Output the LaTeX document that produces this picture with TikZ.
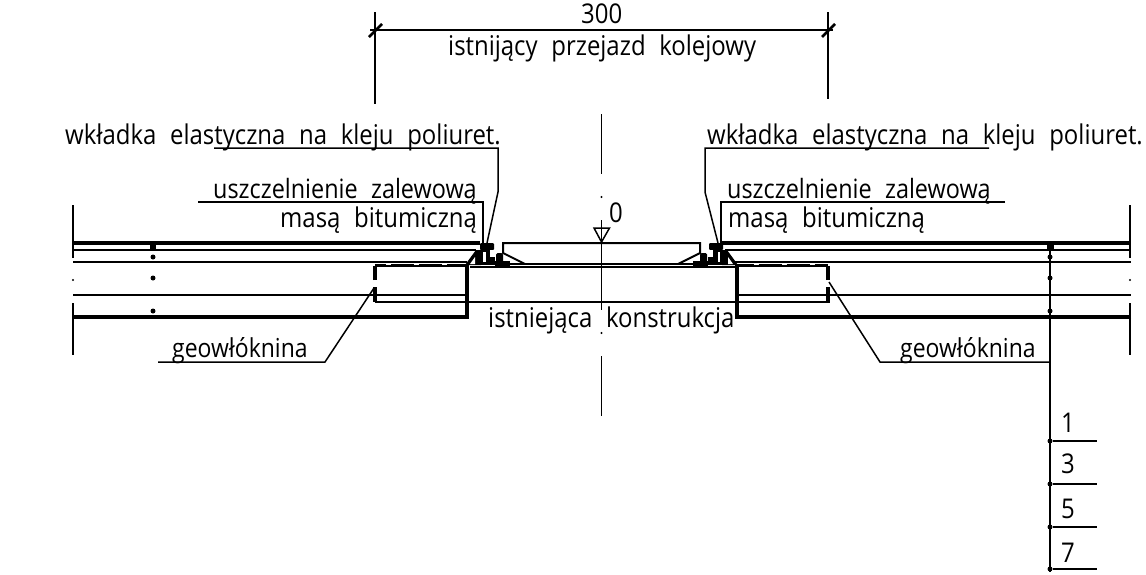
\documentclass[tikz,border=0pt]{standalone}
\usepackage{fontspec}
\setmainfont{Open Sans}[WordSpace=2.2,FakeStretch=0.88]
\tikzset{
 x=1pt,y=-1pt,
 thin line/.style={line width=1.5pt},
 mid line/.style={line width=2pt},
 heavy line/.style={line width=3.2pt},
 lab/.style={font=\fontsize{27.2}{28}\selectfont,inner sep=0pt,anchor=base west},
 labu/.style={font=\fontsize{26.6}{28}\selectfont,inner sep=0pt,anchor=base west},
 labs/.style={font=\fontsize{26.1}{28}\selectfont,inner sep=0pt,anchor=base west},
 spot/.style={circle,fill=black,inner sep=0pt,minimum size=5pt},
 jointpic/.pic={
  \fill (465,265) -- (476,250) -- (481,250) -- (481,265) -- cycle;
  \fill[white] (470,264) -- (475,257) -- (475,264) -- cycle;
  \fill[rounded corners=1pt] (480,243) rectangle (494,250);
  \fill (480,250) rectangle (495,265);
  \fill[white] (483,252) rectangle (485.5,262);
  \fill[white] (490,250) rectangle (495,257);
  \fill[rounded corners=1.5pt] (496,253) rectangle (503,266);
  \fill (495,261) rectangle (510,267);
 },
}
\begin{document}
\begin{tikzpicture}
\useasboundingbox (0,0) rectangle (1146,574);
% dimension
\draw[thin line] (375,12) -- (375,104);
\draw[thin line] (828,12) -- (828,99);
\draw[thin line] (370,30) -- (833,30);
\draw[line width=2.6pt] (369,37) -- (382,24);
\draw[line width=2.6pt] (822,37) -- (835,24);
\node[lab] (t300) at (581,23) {300};
\node[lab] (tprz) at (448,55) {istnijący przejazd kolejowy};
% centre line
\draw[thin line] (601.5,114) -- (601.5,174);
\fill (601.5,197) circle (1.2pt);
\draw[thin line] (601.5,220) -- (601.5,310);
\fill (601.5,333) circle (1.2pt);
\draw[thin line] (601.5,356) -- (601.5,416);
\draw[thin line] (594,228) -- (609.5,228) -- (601.5,242) -- cycle;
\node[lab] (t0) at (609,222) {0};
% left courses
\draw[heavy line] (73,243) -- (480,243);
\draw[mid line] (73,249.5) -- (476,249.5);
\draw[mid line] (73,262) -- (467,262);
\draw[mid line] (73,295) -- (466,295);
\draw[heavy line] (73,317) -- (467,317) -- (467,264);
% right courses
\draw[heavy line] (720,243) -- (1131,243);
\draw[mid line] (725,249.5) -- (1131,249.5);
\draw[mid line] (735,262) -- (1131,262);
\draw[mid line] (737,295) -- (1131,295);
\draw[heavy line] (1131,317) -- (737,317) -- (737,264);
% ends
\draw[thin line] (73,205) -- (73,258);
\draw[thin line] (73,303) -- (73,355);
\fill (73,280) circle (1.2pt);
\draw[mid line] (1130,205) -- (1130,258);
\draw[mid line] (1130,303) -- (1130,355);
\fill (1130,280) circle (1.2pt);
% geotextile
\draw[heavy line] (375,280) -- (375,265.5);
\draw[mid line] (375,266) -- (466,266);
\draw[mid line,dash pattern=on 23pt off 5pt,dash phase=12pt] (375,264.5) -- (466,264.5);
\draw[heavy line] (375,287) -- (375,302);
\draw[mid line] (375,302) -- (828,302);
\draw[heavy line] (828,287) -- (828,302.5);
\draw[heavy line] (828,280) -- (828,265.5);
\draw[mid line] (737,266) -- (828,266);
\draw[mid line,dash pattern=on 23pt off 5pt,dash phase=6.5pt] (737,264.5) -- (828,264.5);
% slab
\draw[mid line] (525,264) -- (503,253) -- (503,243) -- (700,243) -- (700,253) -- (678,264);
\draw[mid line] (470,264) -- (735,264);
\draw[mid line] (470,267) -- (735,267);
% joints
\pic {jointpic};
\pic[xscale=-1,xshift=-1203pt] {jointpic};
% labels and leaders
\node[lab] (wl) at (65,144) {wkładka elastyczna na kleju poliuret.};
\draw[thin line] (214,148) -- (498,148) -- (498,192) -- (487,243);
\node[lab] (wr) at (707,144) {wkładka elastyczna na kleju poliuret.};
\draw[thin line] (989,148) -- (705,148) -- (705,192) -- (718,243);
\node[labu] (ul) at (213,198) {uszczelnienie zalewową};
\node[lab] (ml) at (280,227) {masą bitumiczną};
\draw[thin line] (198,202) -- (483,202) -- (483,243);
\node[labu] (ur) at (727,198) {uszczelnienie zalewową};
\node[lab] (mr) at (728,227) {masą bitumiczną};
\draw[thin line] (1005,202) -- (721,202) -- (721,243);
\node[lab] (ist) at (488,327) {istniejąca konstrukcja};
\node[labs] (gl) at (172,357) {geowłóknina};
\draw[thin line] (158,362) -- (325,362) -- (374,288);
\node[labs] (gr) at (900,357) {geowłóknina};
\draw[thin line] (1050,362) -- (880,362) -- (829,282);
% scale
\draw[mid line] (1050,243) -- (1050,572);
\fill (1047,243) rectangle (1054,249);
\node[spot] (d1) at (1050,257) {};
\node[spot] (d2) at (1050,278) {};
\node[spot] (d3) at (1050,311) {};
\fill (150,243) rectangle (156,249);
\node[spot] (e1) at (153,257) {};
\node[spot] (e2) at (153,278) {};
\node[spot] (e3) at (153,311) {};
\foreach \yy/\nn/\dd/\bb in {441/a/1/432,484/b/3/473,527/c/5/518,569/e/7/562}{
  \node[spot] (s\nn) at (1050,\yy) {};
  \coordinate (q\nn) at (1097,\yy);
  \draw[thin line] (s\nn) -- (q\nn);
  \node[lab] (n\nn) at (1061,\bb) {\dd};
}
\end{tikzpicture}
\end{document}
